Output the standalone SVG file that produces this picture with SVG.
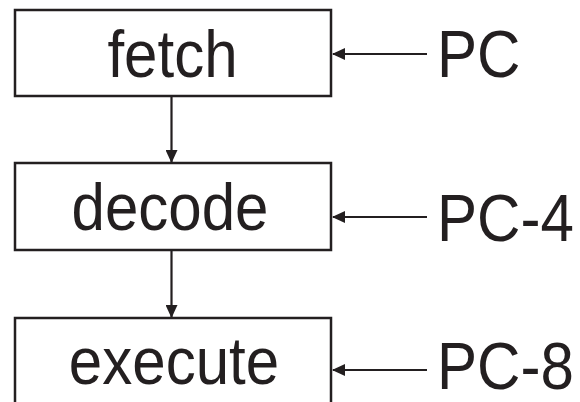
<svg xmlns="http://www.w3.org/2000/svg" width="580" height="402" viewBox="0 0 580 402">
<defs>
<marker id="ah" markerWidth="13" markerHeight="12" refX="12" refY="6" orient="auto" markerUnits="userSpaceOnUse">
<path d="M0,0 L13,6 L0,12 Z" fill="#231f20"/>
</marker>
<style>
.box{fill:#fff;stroke:#231f20;stroke-width:2.5}
.t{font-family:"Liberation Sans",Arial,sans-serif;font-size:66px;fill:#231f20}
.c{fill:none;stroke:#231f20;stroke-width:2.2}
</style>
</defs>
<rect width="580" height="402" fill="#fff"/>
<g id="fetch"><rect class="box" x="15" y="10" width="316" height="86"/><text class="t" transform="translate(172.5,77) scale(0.91,1)" text-anchor="middle">fetch</text></g>
<g id="decode"><rect class="box" x="15" y="163" width="316" height="87"/><text class="t" transform="translate(170,230) scale(0.91,1)" text-anchor="middle">decode</text></g>
<g id="execute"><rect class="box" x="15" y="318" width="316" height="100"/><text class="t" transform="translate(174,384) scale(0.91,1)" text-anchor="middle">execute</text></g>
<g id="pc"><text class="t" transform="translate(437,77) scale(0.91,1)">PC</text></g>
<g id="pc4"><text class="t" transform="translate(437,241) scale(0.91,1)">PC-4</text></g>
<g id="pc8"><text class="t" transform="translate(437,389) scale(0.91,1)">PC-8</text></g>
<g id="connectors">
<line class="c" x1="171.5" y1="97" x2="171.5" y2="162" marker-end="url(#ah)"/>
<line class="c" x1="171.5" y1="251" x2="171.5" y2="317" marker-end="url(#ah)"/>
<line class="c" x1="427" y1="54" x2="333" y2="54" marker-end="url(#ah)"/>
<line class="c" x1="427" y1="217" x2="333" y2="217" marker-end="url(#ah)"/>
<line class="c" x1="427" y1="370" x2="333" y2="370" marker-end="url(#ah)"/>
</g>
</svg>
